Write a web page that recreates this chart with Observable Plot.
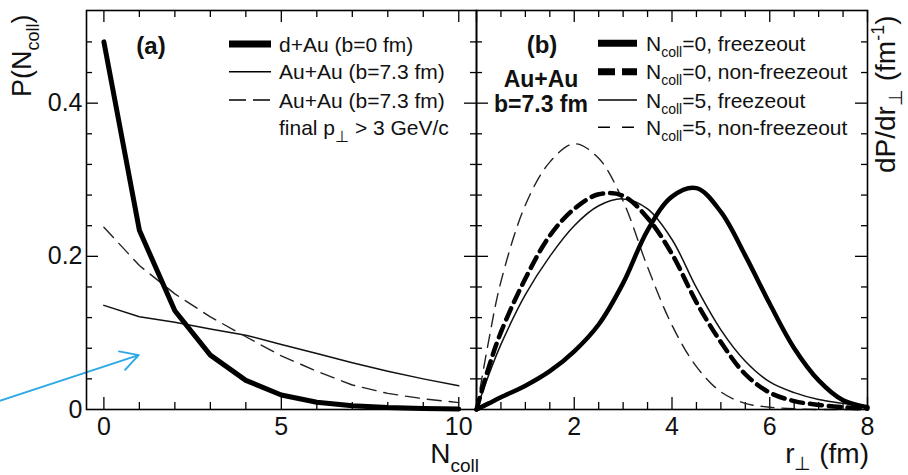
<!DOCTYPE html>
<html><head><meta charset="utf-8">
<script src="https://cdn.jsdelivr.net/npm/d3@7"></script>
<script src="https://cdn.jsdelivr.net/npm/@observablehq/plot@0.6"></script>
<style>
body{margin:0;background:#fff;}
#wrap{position:relative;width:908px;height:475px;overflow:hidden;background:#fff;}
#wrap > svg{position:absolute;top:0;}
text{white-space:pre;}
</style></head><body><div id="wrap"></div>
<script>
// ---------- data: panel (a) ----------
const ncoll = [0,1,2,3,4,5,6,7,8,9,10];
const pDAu      = [0.480,0.234,0.129,0.071,0.038,0.019,0.0095,0.005,0.0025,0.0012,0.0006];
const pAuAu     = [0.136,0.121,0.114,0.105,0.097,0.085,0.073,0.061,0.050,0.040,0.031];
const pAuAuHiPt = [0.238,0.188,0.151,0.121,0.095,0.070,0.050,0.032,0.021,0.014,0.009];
// ---------- data: panel (b) ----------
const rperp       = [0,0.25,0.5,1,1.5,2,2.5,3,3.5,4,4.5,5,5.5,6,6.5,7,7.5,8];
const n0Freeze    = [0,0.008,0.016,0.031,0.050,0.076,0.111,0.165,0.234,0.278,0.289,0.258,0.201,0.138,0.080,0.038,0.012,0.003];
const n0NonFreeze = [0,0.055,0.101,0.171,0.227,0.262,0.281,0.279,0.250,0.203,0.140,0.088,0.046,0.022,0.011,0.006,0.003,0.001];
const n5Freeze    = [0,0.045,0.085,0.150,0.200,0.240,0.266,0.275,0.262,0.222,0.159,0.104,0.063,0.036,0.022,0.013,0.008,0.003];
const n5NonFreeze = [0,0.090,0.167,0.267,0.323,0.347,0.328,0.272,0.186,0.110,0.056,0.023,0.008,0.003,0.001,0,0,0];
// ---------- ticks ----------
const aXMajor = [0,5,10];
const aXMinor = [1,2,3,4,6,7,8,9];
const aXLabels = ["0","5","10"];
const bXMajor = [0,2,4,6,8];
const bXMinor = [0.5,1,1.5,2.5,3,3.5,4.5,5,5.5,6.5,7,7.5];
const bXLabelVals = [2,4,6,8];
const yMajor = [0.2,0.4];
const yMinor = [0.04,0.08,0.12,0.16,0.24,0.28,0.32,0.36,0.44,0.48];
const yLabelVals = [0,0.2,0.4];
const yLabels = ["0","0.2","0.4"];
// ---------- annotation arrow (panel a data units) ----------
const arrowX = [-2.95, 0.98];
const arrowY = [0.011, 0.071];
// ---------- legend / labels ----------
const legendA = ["d+Au (b=0 fm)","Au+Au (b=7.3 fm)","Au+Au (b=7.3 fm)"];
const legendB = ["=0, freezeout","=0, non-freezeout","=5, freezeout","=5, non-freezeout"];

const FONT = "'Liberation Sans', Arial, Helvetica, sans-serif";
const H = 475, MT = 10, MB = 66, FH = H - MT - MB;
const yDom = [0, 0.521];

function ticksMarks(xMaj, xMin, frameW) {
  const sw = 1.3;
  return [
    Plot.tickX(xMaj, {x: d => d, insetTop: FH - 12, strokeWidth: sw}),
    Plot.tickX(xMaj, {x: d => d, insetBottom: FH - 12, strokeWidth: sw}),
    Plot.tickX(xMin, {x: d => d, insetTop: FH - 7, strokeWidth: sw}),
    Plot.tickX(xMin, {x: d => d, insetBottom: FH - 7, strokeWidth: sw}),
    Plot.tickY(yMajor, {y: d => d, insetRight: frameW - 12, strokeWidth: sw}),
    Plot.tickY(yMajor, {y: d => d, insetLeft: frameW - 12, strokeWidth: sw}),
    Plot.tickY(yMinor, {y: d => d, insetRight: frameW - 6, strokeWidth: sw}),
    Plot.tickY(yMinor, {y: d => d, insetLeft: frameW - 6, strokeWidth: sw})
  ];
}

const dataA = ncoll.map((n, i) => ({n, dau: pDAu[i], auau: pAuAu[i], hipt: pAuAuHiPt[i]}));
const dataB = rperp.map((r, i) => ({r, a: n0Freeze[i], b: n0NonFreeze[i], c: n5Freeze[i], d: n5NonFreeze[i]}));

const plotA = Plot.plot({
  width: 476, height: H, marginLeft: 86, marginRight: 0, marginTop: MT, marginBottom: MB,
  x: {domain: [-0.49, 10.5], axis: null},
  y: {domain: yDom, axis: null},
  style: {fontFamily: FONT, background: "transparent", overflow: "visible"},
  marks: [
    ...ticksMarks(aXMajor, aXMinor, 390),
    Plot.line(dataA, {x: "n", y: "auau", stroke: "#111", strokeWidth: 1.5}),
    Plot.line(dataA, {x: "n", y: "hipt", stroke: "#222", strokeWidth: 1.4, strokeDasharray: "14,8"}),
    Plot.line(dataA, {x: "n", y: "dau", stroke: "#000", strokeWidth: 5, strokeLinejoin: "round"}),
    Plot.text(aXMajor, {x: d => d, text: (d, i) => aXLabels[i], frameAnchor: "bottom", dy: 17, lineAnchor: "middle", fontSize: 25, fill: "#111"}),
    Plot.text(yLabelVals, {y: d => d, text: (d, i) => yLabels[i], frameAnchor: "left", dx: -4, textAnchor: "end", fontSize: 25, fill: "#111"}),
    Plot.arrow([0], {x1: () => arrowX[0], y1: () => arrowY[0], x2: () => arrowX[1], y2: () => arrowY[1], stroke: "#2ea8e6", strokeWidth: 2, headLength: 15, headAngle: 58}),
    Plot.frame({stroke: "#000", strokeWidth: 1.6})
  ]
});
plotA.style.left = "0px";

const plotB = Plot.plot({
  width: 432, height: H, marginLeft: 0, marginRight: 41, marginTop: MT, marginBottom: MB,
  x: {domain: [0, 8], axis: null},
  y: {domain: yDom, axis: null},
  style: {fontFamily: FONT, background: "transparent", overflow: "visible"},
  marks: [
    ...ticksMarks(bXMajor, bXMinor, 391),
    Plot.line(dataB, {x: "r", y: "d", curve: "catmull-rom", stroke: "#222", strokeWidth: 1.4, strokeDasharray: "13,8"}),
    Plot.line(dataB, {x: "r", y: "c", curve: "catmull-rom", stroke: "#111", strokeWidth: 1.5}),
    Plot.line(dataB, {x: "r", y: "b", curve: "catmull-rom", stroke: "#000", strokeWidth: 4.5, strokeDasharray: "12,7"}),
    Plot.line(dataB, {x: "r", y: "a", curve: "catmull-rom", stroke: "#000", strokeWidth: 4.5}),
    Plot.text(bXLabelVals, {x: d => d, text: d => String(d), frameAnchor: "bottom", dy: 17, lineAnchor: "middle", fontSize: 25, fill: "#111"}),
    Plot.frame({stroke: "#000", strokeWidth: 1.6})
  ]
});
plotB.style.left = "476px";

const wrap = document.getElementById("wrap");
wrap.appendChild(plotA);
wrap.appendChild(plotB);

// ---------- overlay: titles, panel labels, legends ----------
const ov = d3.select(wrap).append("svg").attr("width", 908).attr("height", H)
  .style("left", "0px").attr("font-family", FONT).attr("fill", "#111");

function rich(parts, attrs) {
  const t = ov.append("text");
  for (const [k, v] of Object.entries(attrs)) t.attr(k, v);
  let shift = 0;
  for (const p of parts) {
    const s = typeof p === "string" ? {t: p} : p;
    const target = s.dy || 0;
    const ts = t.append("tspan").text(s.t).attr("dy", target - shift);
    if (s.size) ts.attr("font-size", s.size);
    shift = target;
  }
  return t;
}

// axis titles
rich(["P(N", {t: "coll", dy: 8, size: 18}, ")"], {transform: "translate(31,97) rotate(-90)", "font-size": 27});
rich(["N", {t: "coll", dy: 9, size: 19}], {x: 479, y: 463, "text-anchor": "end", "font-size": 28});
rich(["r", {t: "⊥", dy: 7, size: 19}, " (fm)"], {x: 869, y: 463, "text-anchor": "end", "font-size": 28});
rich(["dP/dr", {t: "⊥", dy: 7, size: 19}, " (fm", {t: "-1", dy: -11, size: 18}, ")"], {transform: "translate(895,173) rotate(-90)", "font-size": 28});

// panel labels
ov.append("text").attr("x", 151).attr("y", 54).attr("text-anchor", "middle").attr("font-size", 24).attr("font-weight", "bold").text("(a)");
ov.append("text").attr("x", 542).attr("y", 53).attr("text-anchor", "middle").attr("font-size", 24).attr("font-weight", "bold").text("(b)");
ov.append("text").attr("x", 541).attr("y", 87).attr("text-anchor", "middle").attr("font-size", 23).attr("font-weight", "bold").text("Au+Au");
ov.append("text").attr("x", 541).attr("y", 112).attr("text-anchor", "middle").attr("font-size", 23).attr("font-weight", "bold").text("b=7.3 fm");

// legend (a)
const rowsA = [44, 71.7, 100, 127.3];
const stylesA = [{w: 7, dash: null}, {w: 1.5, dash: null}, {w: 1.5, dash: "17,7"}];
stylesA.forEach((s, i) => {
  const l = ov.append("line").attr("x1", 229).attr("x2", 271).attr("y1", rowsA[i]).attr("y2", rowsA[i])
    .attr("stroke", "#000").attr("stroke-width", s.w);
  if (s.dash) l.attr("stroke-dasharray", s.dash);
  ov.append("text").attr("x", 279).attr("y", rowsA[i] + 7.5).attr("font-size", 21).text(legendA[i]);
});
rich(["final p", {t: "⊥", dy: 7, size: 16}, {t: " > 3 GeV/c", dy: 0}], {x: 279, y: rowsA[3] + 7.5, "font-size": 21});

// legend (b)
const rowsB = [43.3, 71.7, 100, 127.3];
const stylesB = [{w: 7, dash: null}, {w: 7, dash: "17,7"}, {w: 1.5, dash: null}, {w: 1.5, dash: "12,12"}];
stylesB.forEach((s, i) => {
  const l = ov.append("line").attr("x1", 598).attr("x2", 637).attr("y1", rowsB[i]).attr("y2", rowsB[i])
    .attr("stroke", "#000").attr("stroke-width", s.w);
  if (s.dash) l.attr("stroke-dasharray", s.dash);
  rich(["N", {t: "coll", dy: 6, size: 14}, {t: legendB[i], dy: 0}], {x: 646, y: rowsB[i] + 7.5, "font-size": 21});
});
</script>
</body></html>
